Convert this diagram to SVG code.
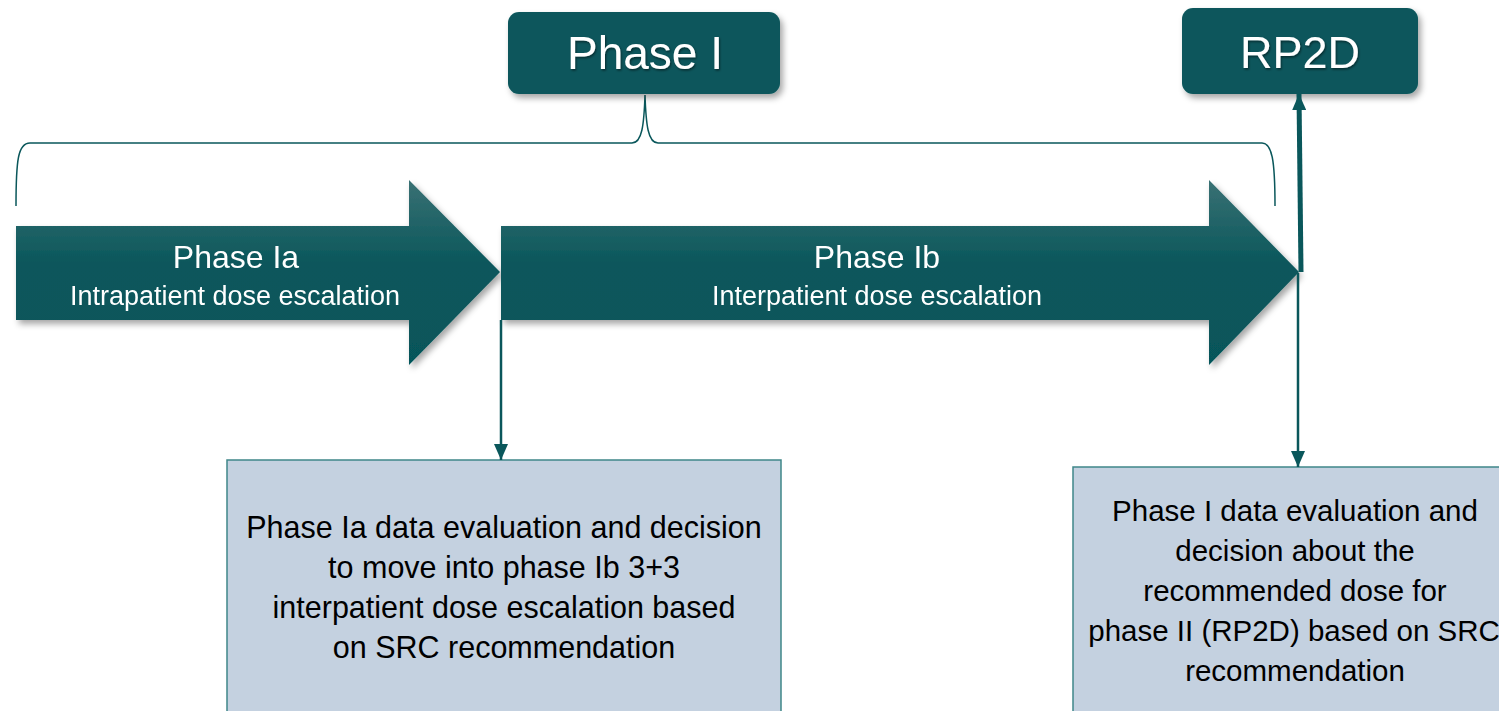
<svg xmlns="http://www.w3.org/2000/svg" width="1499" height="711" viewBox="0 0 1499 711">
<style>
.dark{fill:#0A575B}
.wt{font-family:"Liberation Sans",Arial,sans-serif;fill:#FFFFFF;text-anchor:middle}
.bt{font-family:"Liberation Sans",Arial,sans-serif;fill:#000000;text-anchor:middle}
.b1{font-size:30.5px}
.b2{font-size:29.5px}
.box{fill:#C4D1E0;stroke:#3F8789;stroke-width:1.5}
.con{stroke:#0A575B;fill:none}
</style>
<defs>
<linearGradient id="ag" x1="0" y1="0" x2="0" y2="1">
<stop offset="0" stop-color="#3A7174"/>
<stop offset="0.45" stop-color="#0A575B"/>
<stop offset="1" stop-color="#06555A"/>
</linearGradient>
<filter id="sh" x="-10%" y="-10%" width="130%" height="140%">
<feDropShadow dx="3" dy="4" stdDeviation="3" flood-color="#000" flood-opacity="0.35"/>
</filter>
<filter id="ts" x="-10%" y="-10%" width="130%" height="140%">
<feDropShadow dx="1" dy="1.5" stdDeviation="1" flood-color="#000" flood-opacity="0.5"/>
</filter>
<marker id="ah" markerUnits="userSpaceOnUse" markerWidth="18" markerHeight="14" refX="16" refY="7" orient="auto">
<path d="M0,0 L16,7 L0,14 Z" fill="#0A575B"/>
</marker>
</defs>

<g id="brace">
<path class="con" stroke-width="1.5" d="M16,206 C16,160 18,143 30,143 L632,143 C642,143 644,125 645,95 C646,125 648,143 658,143 L1262,143 C1272,143 1275,160 1275,206"/>
</g>

<g id="phase-ia" filter="url(#sh)">
<path fill="url(#ag)" d="M16,226 L409,226 L409,180 L500,272 L409,365 L409,320 L16,320 Z"/>
<text class="wt" x="236" y="268" font-size="32">Phase Ia</text>
<text class="wt" x="235" y="305" font-size="27">Intrapatient dose escalation</text>
</g>

<g id="phase-ib" filter="url(#sh)">
<path fill="url(#ag)" d="M501,226 L1209,226 L1209,180 L1299,272 L1209,365 L1209,320 L501,320 Z"/>
<text class="wt" x="877" y="268" font-size="32">Phase Ib</text>
<text class="wt" x="877" y="305" font-size="27">Interpatient dose escalation</text>
</g>

<g id="phase-i">
<rect class="dark" x="508" y="12" width="272" height="82" rx="11" filter="url(#sh)"/>
<text class="wt" x="645" y="69" font-size="46" filter="url(#ts)">Phase I</text>
</g>

<g id="rp2d">
<rect class="dark" x="1182" y="8" width="236" height="86" rx="11" filter="url(#sh)"/>
<text class="wt" x="1300" y="68" font-size="45" filter="url(#ts)">RP2D</text>
</g>

<g id="box-ia">
<rect class="box" x="227" y="460" width="554" height="260"/>
<text class="bt b1" x="504" y="538">Phase Ia data evaluation and decision</text>
<text class="bt b1" x="504" y="578">to move into phase Ib 3+3</text>
<text class="bt b1" x="504" y="618">interpatient dose escalation based</text>
<text class="bt b1" x="504" y="658">on SRC recommendation</text>
</g>

<g id="box-i">
<rect class="box" x="1073" y="467" width="440" height="260"/>
<text class="bt b2" x="1295" y="521">Phase I data evaluation and</text>
<text class="bt b2" x="1295" y="561">decision about the</text>
<text class="bt b2" x="1295" y="601">recommended dose for</text>
<text class="bt b2" x="1294" y="641">phase II (RP2D) based on SRC</text>
<text class="bt b2" x="1295" y="681">recommendation</text>
</g>

<g id="connectors">
<line class="con" stroke-width="2.5" x1="501" y1="320" x2="501" y2="460" marker-end="url(#ah)"/>
<line class="con" stroke-width="2.5" x1="1298" y1="273" x2="1298" y2="467" marker-end="url(#ah)"/>
<line class="con" stroke-width="5" x1="1301" y1="272" x2="1299" y2="94" marker-end="url(#ah)"/>
</g>
</svg>
